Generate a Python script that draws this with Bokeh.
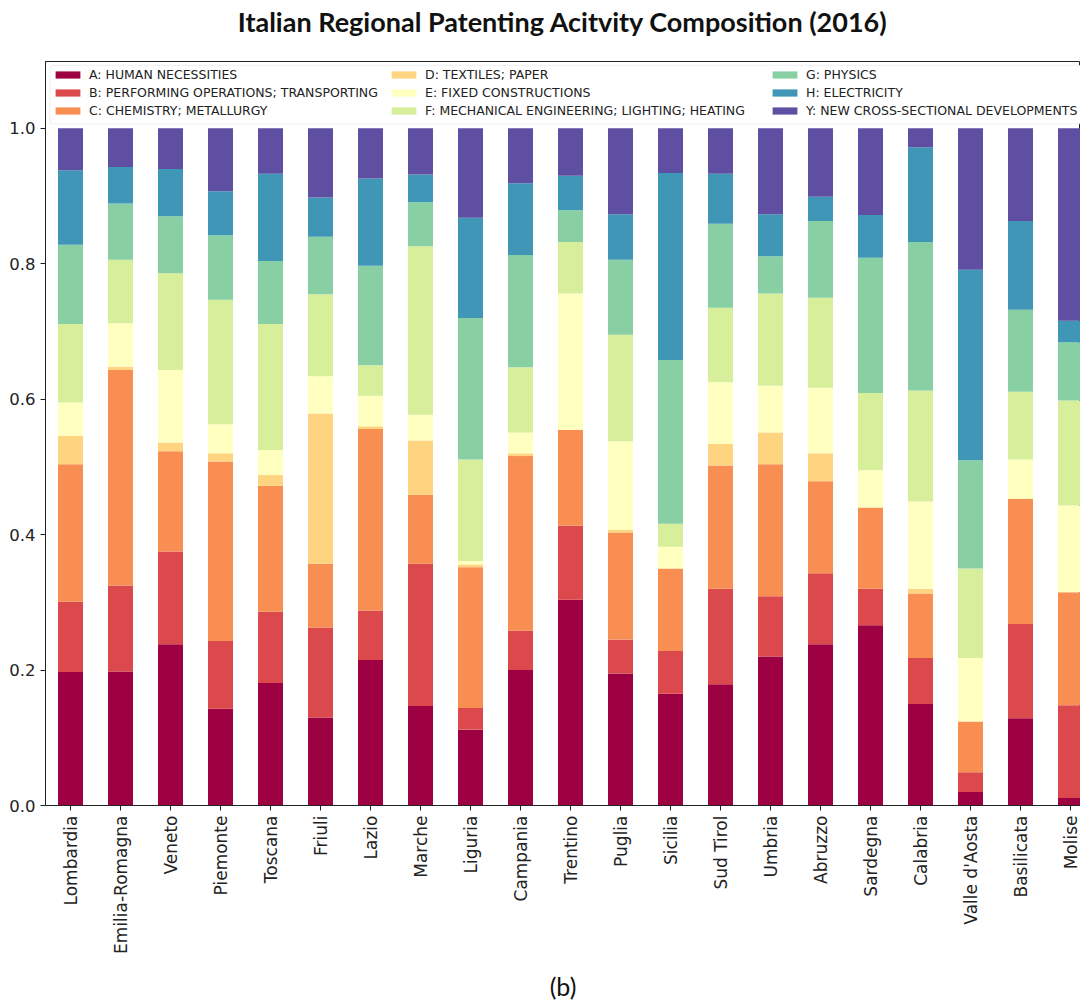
import math
from bokeh.plotting import figure
from bokeh.models import (Legend, LegendItem, FixedTicker, Title, ColumnDataSource,
                          Range1d, PrintfTickFormatter, BoxAnnotation)
from bokeh.embed import file_html
from bokeh.resources import INLINE

regions = ["Lombardia", "Emilia-Romagna", "Veneto", "Piemonte", "Toscana", "Friuli",
           "Lazio", "Marche", "Liguria", "Campania", "Trentino", "Puglia", "Sicilia",
           "Sud Tirol", "Umbria", "Abruzzo", "Sardegna", "Calabria", "Valle d'Aosta",
           "Basilicata", "Molise"]

labels = ["A: HUMAN NECESSITIES",
          "B: PERFORMING OPERATIONS; TRANSPORTING",
          "C: CHEMISTRY; METALLURGY",
          "D: TEXTILES; PAPER",
          "E: FIXED CONSTRUCTIONS",
          "F: MECHANICAL ENGINEERING; LIGHTING; HEATING",
          "G: PHYSICS",
          "H: ELECTRICITY",
          "Y: NEW CROSS-SECTIONAL DEVELOPMENTS"]

A = [0.197, 0.198, 0.238, 0.143, 0.181, 0.130, 0.215, 0.147, 0.112, 0.200, 0.304,
     0.195, 0.165, 0.179, 0.220, 0.238, 0.266, 0.150, 0.020, 0.129, 0.011]
B = [0.104, 0.127, 0.137, 0.100, 0.105, 0.133, 0.073, 0.210, 0.032, 0.058, 0.109,
     0.050, 0.063, 0.141, 0.089, 0.105, 0.054, 0.068, 0.029, 0.139, 0.137]
C = [0.203, 0.318, 0.148, 0.265, 0.186, 0.094, 0.268, 0.102, 0.208, 0.258, 0.142,
     0.158, 0.122, 0.182, 0.195, 0.136, 0.120, 0.095, 0.075, 0.185, 0.167]
D = [0.042, 0.005, 0.013, 0.012, 0.016, 0.222, 0.004, 0.080, 0.004, 0.004, 0.000,
     0.004, 0.000, 0.032, 0.047, 0.041, 0.000, 0.007, 0.000, 0.000, 0.000]
E = [0.049, 0.064, 0.107, 0.043, 0.037, 0.055, 0.045, 0.038, 0.005, 0.031, 0.201,
     0.131, 0.032, 0.091, 0.069, 0.097, 0.055, 0.129, 0.094, 0.058, 0.128]
F = [0.116, 0.094, 0.143, 0.184, 0.186, 0.121, 0.045, 0.249, 0.150, 0.096, 0.076,
     0.157, 0.034, 0.110, 0.136, 0.133, 0.114, 0.164, 0.132, 0.100, 0.155]
G = [0.117, 0.083, 0.084, 0.095, 0.093, 0.085, 0.147, 0.065, 0.209, 0.166, 0.047,
     0.111, 0.242, 0.124, 0.055, 0.113, 0.200, 0.219, 0.160, 0.121, 0.086]
H = [0.110, 0.054, 0.070, 0.065, 0.129, 0.058, 0.129, 0.041, 0.148, 0.106, 0.051,
     0.067, 0.276, 0.074, 0.062, 0.036, 0.063, 0.140, 0.281, 0.131, 0.032]
Y = [0.062, 0.057, 0.060, 0.093, 0.067, 0.102, 0.074, 0.068, 0.132, 0.081, 0.070,
     0.127, 0.066, 0.067, 0.127, 0.101, 0.128, 0.028, 0.209, 0.137, 0.284]

colors = ["#9e0142", "#dc494c", "#f88e52", "#fed481", "#ffffbf",
          "#d7ef9b", "#88d0a4", "#3f96b7", "#5e4fa2"]

keys = ["A", "B", "C", "D", "E", "F", "G", "H", "Y"]
series = [A, B, C, D, E, F, G, H, Y]
data = {"x": list(range(len(regions)))}
for k, s in zip(keys, series):
    data[k] = s
src = ColumnDataSource(data)

p = figure(width=1080, height=1000,
           x_range=Range1d(-0.5, 20.2), y_range=Range1d(0, 1.0987),
           output_backend="svg", toolbar_location=None,
           min_border_left=45, min_border_right=0, min_border_top=61,
           min_border_bottom=193)

rs = p.vbar_stack(keys, x="x", width=0.5, color=colors, source=src, line_color=None)

# legend frame (drawn behind the three legend columns)
p.add_layout(BoxAnnotation(left=-0.41, right=21, bottom=1.0066, top=1.093,
                           fill_color="white", fill_alpha=1.0,
                           line_color="#cccccc", line_width=1, border_radius=3))

col_x = [7, 343, 724]
for c in range(3):
    items = [LegendItem(label=labels[i], renderers=[rs[i]])
             for i in range(c * 3, c * 3 + 3)]
    lg = Legend(items=items, location=(col_x[c], 686), orientation="vertical",
                margin=0, padding=0, spacing=1, label_height=17, glyph_height=9,
                glyph_width=31, label_standoff=6, label_text_font="DejaVu Sans",
                label_text_font_size="12.5px", label_text_color="#222222",
                label_text_baseline="middle",
                border_line_color=None, background_fill_alpha=0)
    p.add_layout(lg)

p.xgrid.visible = False
p.ygrid.visible = False
p.outline_line_color = "#222222"

p.xaxis.ticker = FixedTicker(ticks=list(range(len(regions))))
p.xaxis.major_label_overrides = {i: r for i, r in enumerate(regions)}
p.xaxis.major_label_orientation = math.pi / 2
p.yaxis.ticker = FixedTicker(ticks=[0.0, 0.2, 0.4, 0.6, 0.8, 1.0])
p.yaxis.formatter = PrintfTickFormatter(format="%.1f")
for ax in (p.xaxis, p.yaxis):
    ax.axis_line_color = "#222222"
    ax.major_tick_line_color = "#222222"
    ax.major_tick_out = 5
    ax.major_tick_in = 0
    ax.minor_tick_line_color = None
    ax.major_label_text_font = "DejaVu Sans"
    ax.major_label_text_color = "#222222"
    ax.major_label_standoff = 5
p.xaxis.major_label_text_font_size = "17px"
p.yaxis.major_label_text_font_size = "16.5px"

p.title.text = "Italian Regional Patenting Acitvity Composition (2016)"
p.title.align = "center"
p.title.text_font = "Lato"
p.title.text_font_style = "bold"
p.title.text_font_size = "27px"
p.title.text_color = "#111111"
p.title.standoff = 0
p.title.padding = dict(left=0, right=0, top=0, bottom=24)

p.add_layout(Title(text="(b)", align="center", offset=-11, text_font="Lato",
                   text_font_style="normal", text_font_size="25px",
                   text_color="#111111", standoff=0,
                   padding=dict(left=0, right=0, top=12, bottom=0)), "below")

open("out.html", "w").write(file_html(p, INLINE))
